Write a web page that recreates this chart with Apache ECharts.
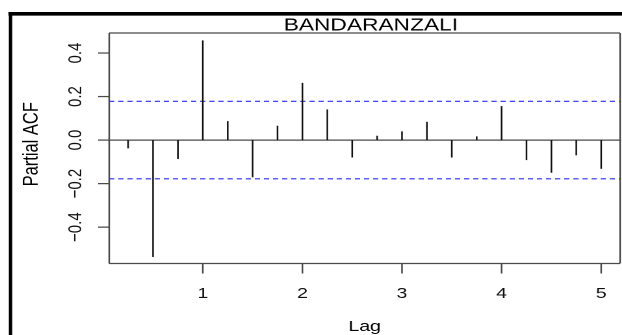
<!DOCTYPE html>
<html>
<head>
<meta charset="utf-8">
<script src="https://cdn.jsdelivr.net/npm/echarts@6/dist/echarts.min.js"></script>
<style>
  html, body { margin: 0; padding: 0; background: #fff; overflow: hidden; }
  #wrap { width: 622px; height: 335px; position: relative; overflow: hidden; background: #fff; }
  /* the plot is laid out narrow and then stretched sideways to fill the frame */
  #chart { position: absolute; left: 0; top: 0; width: 478.5px; height: 335px;
           transform: scaleX(1.3); transform-origin: 0 0; }
</style>
</head>
<body>
<div id="wrap"><div id="chart"></div></div>
<script>
// Partial autocorrelation of the BANDARANZALI series, lags in years
const lags = [0.25, 0.5, 0.75, 1.0, 1.25, 1.5, 1.75, 2.0, 2.25, 2.5,
              2.75, 3.0, 3.25, 3.5, 3.75, 4.0, 4.25, 4.5, 4.75, 5.0];
const pacf = [-0.038, -0.537, -0.087, 0.458, 0.087, -0.171, 0.066, 0.263, 0.141, -0.080,
              0.020, 0.040, 0.084, -0.080, 0.017, 0.156, -0.092, -0.150, -0.070, -0.132];
// approximate 95% significance bounds
const bounds = [0.178, -0.178];
const xTicks = [1, 2, 3, 4, 5];
const yTicks = [-0.4, -0.2, 0.0, 0.2, 0.4];
const title = 'BANDARANZALI';

const FONT = '"Liberation Sans", Arial, Helvetica, sans-serif';
const BOX = '#4a4a4a';
const chart = echarts.init(document.getElementById('chart'), null, { renderer: 'canvas', devicePixelRatio: 2 });

const fmtY = v => (v < 0 ? '\u2212' : '') + Math.abs(v).toFixed(1);
const frameStyle = () => ({ stroke: BOX, lineWidth: 1.25 });

// plot frame and outward tick marks, placed through the axes
function renderFrame(params, api) {
  const cs = params.coordSys;
  const left = cs.x, top = cs.y, right = cs.x + cs.width, bottom = cs.y + cs.height;
  const kids = [
    { type: 'line', shape: { x1: left, y1: top, x2: right, y2: top }, style: frameStyle() },
    { type: 'line', shape: { x1: left, y1: bottom, x2: right, y2: bottom }, style: frameStyle() },
    { type: 'line', shape: { x1: left, y1: top, x2: left, y2: bottom }, style: frameStyle() },
    { type: 'line', shape: { x1: right, y1: top, x2: right, y2: bottom }, style: frameStyle() }
  ];
  xTicks.forEach(function (t) {
    const x = api.coord([t, 0])[0];
    kids.push({ type: 'line', shape: { x1: x, y1: bottom, x2: x, y2: bottom + 10 }, style: frameStyle() });
  });
  yTicks.forEach(function (t) {
    const y = api.coord([1, t])[1];
    kids.push({ type: 'line', shape: { x1: left, y1: y, x2: left - 8.5, y2: y }, style: frameStyle() });
  });
  return { type: 'group', children: kids };
}

// horizontal zero reference as a thin filled band across the plotting region
function renderZero(params, api) {
  const cs = params.coordSys;
  const y = api.coord([api.value(0), api.value(1)])[1];
  return {
    type: 'rect',
    shape: { x: cs.x, y: y - 0.65, width: cs.width, height: 1.3 },
    style: { fill: BOX }
  };
}

// dashed significance bound across the plotting region
function renderBound(params, api) {
  const cs = params.coordSys;
  const y = api.coord([1, api.value(1)])[1];
  return {
    type: 'line',
    shape: { x1: cs.x, y1: y, x2: cs.x + cs.width, y2: y },
    style: { stroke: '#2b2bff', lineWidth: 1.1, lineDash: [4, 3] }
  };
}

chart.setOption({
  animation: false,
  backgroundColor: '#fff',
  title: {
    text: title,
    left: 280.3,
    textAlign: 'center',
    top: 11.5,
    textStyle: { fontFamily: FONT, fontSize: 17.5, fontWeight: 'normal', color: '#000' }
  },
  graphic: [
    { type: 'line', silent: true, shape: { x1: 6.5, y1: 13.8, x2: 480, y2: 13.8 },
      style: { stroke: '#000', lineWidth: 3.7 } },
    { type: 'line', silent: true, shape: { x1: 8.1, y1: 12, x2: 8.1, y2: 340 },
      style: { stroke: '#000', lineWidth: 2.6 } }
  ],
  grid: { left: 84, right: 2, top: 33, bottom: 71.5, outerBoundsMode: 'none', containLabel: false },
  xAxis: {
    type: 'value', min: 0.06, max: 5.19,
    name: 'Lag', nameLocation: 'middle', nameGap: 56,
    nameTextStyle: { fontFamily: FONT, fontSize: 15, color: '#000' },
    axisLine: { show: false, onZero: false },
    splitLine: { show: false },
    axisTick: { show: false },
    axisLabel: { customValues: xTicks, fontFamily: FONT, fontSize: 15, color: '#111', margin: 23,
                 formatter: v => String(v) }
  },
  yAxis: {
    type: 'value', min: -0.567, max: 0.492,
    name: 'Partial ACF', nameLocation: 'middle', nameGap: 51, nameRotate: 90,
    nameTextStyle: { fontFamily: FONT, fontSize: 16.5, color: '#000', padding: [0, 0, 0, 8] },
    axisLine: { show: false, onZero: false },
    splitLine: { show: false },
    axisTick: { show: false },
    axisLabel: { customValues: yTicks, rotate: 90, fontFamily: FONT, fontSize: 15, color: '#111',
                 margin: 18, formatter: fmtY }
  },
  series: [{
    type: 'custom',
    data: [[1, 0]],
    clip: false,
    renderItem: renderFrame,
    z: 2
  }, {
    type: 'custom',
    data: [[2.5, 0.0]],
    clip: false,
    renderItem: renderZero,
    z: 2
  }, {
    type: 'custom',
    data: bounds.map(v => [1, v]),
    renderItem: renderBound,
    z: 2
  }, {
    type: 'custom',
    data: lags.map((l, i) => [l, pacf[i]]),
    renderItem: function (params, api) {
      const p0 = api.coord([api.value(0), 0]);
      const p1 = api.coord([api.value(0), api.value(1)]);
      return {
        type: 'line',
        shape: { x1: p0[0], y1: p0[1], x2: p1[0], y2: p1[1] },
        style: { stroke: '#111', lineWidth: 1.25 }
      };
    },
    z: 3
  }]
});
</script>
</body>
</html>
